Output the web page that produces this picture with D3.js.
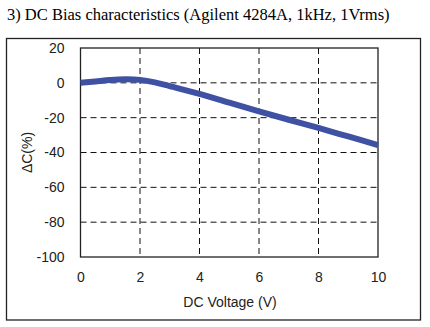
<!DOCTYPE html>
<html><head><meta charset="utf-8">
<script src="https://cdn.jsdelivr.net/npm/d3@7"></script>
<style>body{margin:0;background:#fff}</style>
</head><body>
<svg id="c" width="430" height="327"></svg>
<script>
const voltage = [0, 0.5, 1, 1.5, 2, 2.5, 3, 4, 5, 6, 7, 8, 9, 10];
const deltaC  = [0, 0.8, 1.6, 2.0, 1.7, 0.3, -1.9, -6.3, -11.4, -16.4, -21.2, -25.9, -30.8, -35.7];
const xTicks = [0, 2, 4, 6, 8, 10];
const yTicks = [20, 0, -20, -40, -60, -80, -100];

const svg = d3.select("#c");
const L = 80.5, R = 378, T = 48, B = 257;
const x = d3.scaleLinear().domain([0, 10]).range([L, R]);
const y = d3.scaleLinear().domain([-100, 20]).range([B, T]);
const sans = "Liberation Sans, Arial, sans-serif";

svg.append("text").attr("x", 7).attr("y", 20)
  .attr("font-family", "Liberation Serif, Times New Roman, serif").attr("font-size", 16.5)
  .text("3) DC Bias characteristics (Agilent 4284A, 1kHz, 1Vrms)");

svg.append("rect").attr("x", 6.5).attr("y", 38.5).attr("width", 414).attr("height", 281.5)
  .attr("fill", "none").attr("stroke", "#222").attr("stroke-width", 1.3);

const g = svg.append("g");
g.selectAll(".vg").data(xTicks.filter(d => d > 0 && d < 10)).join("line")
  .attr("x1", d => x(d)).attr("x2", d => x(d)).attr("y1", T).attr("y2", B)
  .attr("stroke", "#111").attr("stroke-width", 1).attr("stroke-dasharray", "6,4");
g.selectAll(".hg").data(yTicks.filter(d => d < 20 && d > -100)).join("line")
  .attr("x1", L).attr("x2", R).attr("y1", d => y(d)).attr("y2", d => y(d))
  .attr("stroke", "#111").attr("stroke-width", 1).attr("stroke-dasharray", "6,4");

g.append("rect").attr("x", L).attr("y", T).attr("width", R - L).attr("height", B - T)
  .attr("fill", "none").attr("stroke", "#222").attr("stroke-width", 1.3);

const fmt = d => String(d);
const yAxis = d3.axisLeft(y).tickValues(yTicks).tickFormat(fmt).tickSize(0).tickPadding(16);
const ya = svg.append("g").attr("transform", `translate(${L},0)`).call(yAxis);
ya.select(".domain").remove();
ya.selectAll("text").attr("font-family", sans).attr("font-size", 14).attr("fill", "#222");

const xAxis = d3.axisBottom(x).tickValues(xTicks).tickFormat(fmt).tickSize(0).tickPadding(15);
const xa = svg.append("g").attr("transform", `translate(0,${B})`).call(xAxis);
xa.select(".domain").remove();
xa.selectAll("text").attr("font-family", sans).attr("font-size", 14).attr("fill", "#222");

svg.append("text").attr("x", 230).attr("y", 307).attr("text-anchor", "middle")
  .attr("font-family", sans).attr("font-size", 14).attr("fill", "#222")
  .text("DC Voltage (V)");
svg.append("text").attr("transform", `translate(32,${(T + B) / 2}) rotate(-90)`).attr("text-anchor", "middle")
  .attr("font-family", sans).attr("font-size", 14).attr("fill", "#222")
  .text("ΔC(%)");

const line = d3.line().x((d, i) => x(voltage[i])).y(d => y(d)).curve(d3.curveCatmullRom);
svg.append("path").datum(deltaC).attr("d", line).attr("fill", "none")
  .attr("stroke", "#3f51a3").attr("stroke-width", 6).attr("stroke-linecap", "butt");
</script>
</body></html>
